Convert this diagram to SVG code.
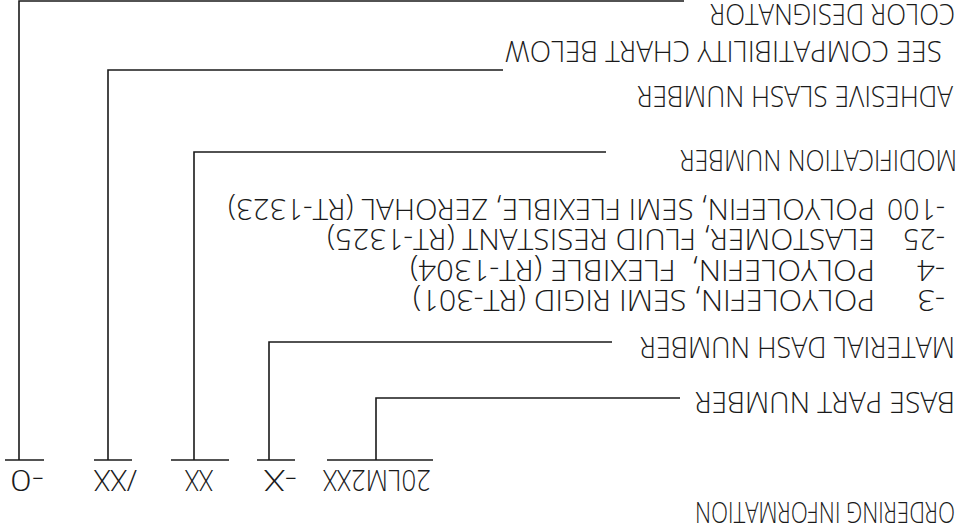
<svg xmlns="http://www.w3.org/2000/svg" width="967" height="529" viewBox="0 0 967 529">
<style>
.ln{stroke:#1a1a1a;stroke-width:1.6;fill:none}
text{font-family:"Open Sans","Liberation Sans",sans-serif;font-weight:300;font-size:29px;fill:#1a1a1a}
</style>
<rect width="967" height="529" fill="#fff"/>
<g id="connectors">
<path class="ln" d="M19,460 V1 H684"/>
<path class="ln" d="M5,460 H44"/>
<path class="ln" d="M108,460 V70 H503"/>
<path class="ln" d="M94,460 H132"/>
<path class="ln" d="M194,460 V152 H606"/>
<path class="ln" d="M171,460 H229"/>
<path class="ln" d="M269,460 V342 H612"/>
<path class="ln" d="M257,460 H295"/>
<path class="ln" d="M376,460 V398 H680"/>
<path class="ln" d="M327,460 H433"/>
</g>
<g id="title"><text x="955" y="502" transform="rotate(180 955 502)" textLength="260" lengthAdjust="spacingAndGlyphs">ORDERING INFORMATION</text></g>
<g id="part-number">
<text x="431" y="470" transform="rotate(180 431 470)" textLength="108" lengthAdjust="spacingAndGlyphs">20LM2XX</text>
<text x="297" y="470" transform="rotate(180 297 470)" textLength="33" lengthAdjust="spacingAndGlyphs">-X</text>
<text x="213" y="470" transform="rotate(180 213 470)" textLength="28" lengthAdjust="spacingAndGlyphs">XX</text>
<text x="137" y="470" transform="rotate(180 137 470)" textLength="43" lengthAdjust="spacingAndGlyphs">/XX</text>
<text x="44" y="470" transform="rotate(180 44 470)" textLength="34" lengthAdjust="spacingAndGlyphs">-0</text>
</g>
<g id="base-part"><text x="955" y="392" transform="rotate(180 955 392)" textLength="260" lengthAdjust="spacingAndGlyphs">BASE PART NUMBER</text></g>
<g id="material-dash">
<text x="955" y="337" transform="rotate(180 955 337)" textLength="315" lengthAdjust="spacingAndGlyphs">MATERIAL DASH NUMBER</text>
<text x="945" y="290" transform="rotate(180 945 290)" textLength="28" lengthAdjust="spacingAndGlyphs">-3</text>
<text x="875" y="290" transform="rotate(180 875 290)" textLength="462" lengthAdjust="spacingAndGlyphs">POLYOLEFIN, SEMI RIGID (RT-301)</text>
<text x="945" y="260" transform="rotate(180 945 260)" textLength="28" lengthAdjust="spacingAndGlyphs">-4</text>
<text x="875" y="260" transform="rotate(180 875 260)" textLength="465" lengthAdjust="spacingAndGlyphs" xml:space="preserve">POLYOLEFIN,  FLEXIBLE (RT-1304)</text>
<text x="945" y="229" transform="rotate(180 945 229)" textLength="42" lengthAdjust="spacingAndGlyphs">-25</text>
<text x="875" y="229" transform="rotate(180 875 229)" textLength="548" lengthAdjust="spacingAndGlyphs">ELASTOMER, FLUID RESISTANT (RT-1325)</text>
<text x="945" y="199" transform="rotate(180 945 199)" textLength="58" lengthAdjust="spacingAndGlyphs">-100</text>
<text x="875" y="199" transform="rotate(180 875 199)" textLength="647" lengthAdjust="spacingAndGlyphs">POLYOLEFIN, SEMI FLEXIBLE, ZEROHAL (RT-1323)</text>
</g>
<g id="modification"><text x="957" y="150" transform="rotate(180 957 150)" textLength="277" lengthAdjust="spacingAndGlyphs">MODIFICATION NUMBER</text></g>
<g id="adhesive-slash">
<text x="953" y="86" transform="rotate(180 953 86)" textLength="316" lengthAdjust="spacingAndGlyphs">ADHESIVE SLASH NUMBER</text>
<text x="942" y="41" transform="rotate(180 942 41)" textLength="437" lengthAdjust="spacingAndGlyphs">SEE COMPATIBILITY CHART BELOW</text>
</g>
<g id="color-designator"><text x="955" y="4" transform="rotate(180 955 4)" textLength="245" lengthAdjust="spacingAndGlyphs">COLOR DESIGNATOR</text></g>
</svg>
